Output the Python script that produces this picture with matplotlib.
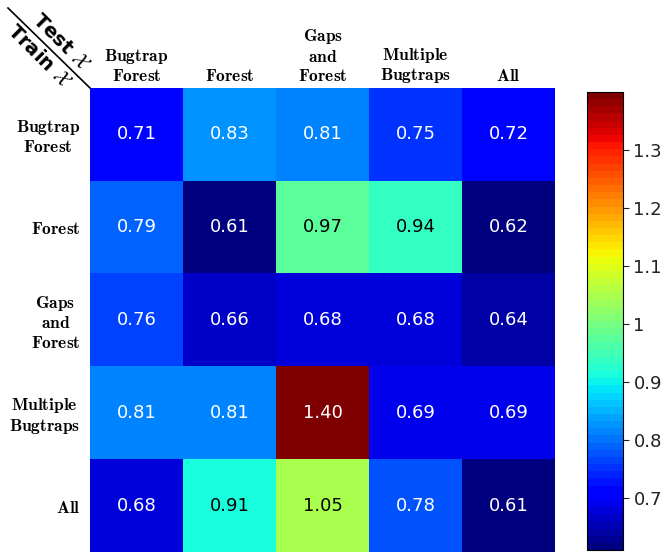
import numpy as np
import matplotlib
matplotlib.use("Agg")
import matplotlib.pyplot as plt
from matplotlib.lines import Line2D

plt.rcParams['mathtext.fontset'] = 'cm'

col_labels = ["Bugtrap\nForest", "Forest", "Gaps\nand\nForest", "Multiple\nBugtraps", "All"]
row_labels = ["Bugtrap\nForest", "Forest", "Gaps\nand\nForest", "Multiple\nBugtraps", "All"]
values = np.array([
    [0.71, 0.83, 0.81, 0.75, 0.72],
    [0.79, 0.61, 0.97, 0.94, 0.62],
    [0.76, 0.66, 0.68, 0.68, 0.64],
    [0.81, 0.81, 1.40, 0.69, 0.69],
    [0.68, 0.91, 1.05, 0.78, 0.61],
])
cbar_ticks = [0.7, 0.8, 0.9, 1.0, 1.1, 1.2, 1.3]
cbar_ticklabels = ["0.7", "0.8", "0.9", "1", "1.1", "1.2", "1.3"]


def bf(s):
    return "\n".join(r"$\mathbf{" + line.replace(" ", r"\ ") + "}$" for line in s.split("\n"))


W, H = 663, 552
fig = plt.figure(figsize=(W / 100, H / 100), dpi=100)
ax = fig.add_axes([90 / W, 0, 465 / W, 1 - 88 / H])
cmap = plt.get_cmap('jet', 64)
im = ax.imshow(values, cmap=cmap, vmin=values.min(), vmax=values.max(), aspect='auto')

for i in range(values.shape[0]):
    for j in range(values.shape[1]):
        v = values[i, j]
        color = 'black' if 0.85 < v < 1.2 else 'white'
        ax.text(j, i, f"{v:.2f}", ha='center', va='center', color=color, fontsize=13)

ax.set_xticks(range(len(col_labels)))
ax.set_yticks(range(len(row_labels)))
ax.set_xticklabels([bf(s) for s in col_labels], fontsize=12.5, linespacing=1.1)
ax.set_yticklabels([bf(s) for s in row_labels], fontsize=12.5, linespacing=1.1,
                   multialignment='center')
ax.xaxis.tick_top()
ax.tick_params(axis='x', length=0, pad=2)
ax.tick_params(axis='y', length=0, pad=7)
for sp in ax.spines.values():
    sp.set_visible(False)

cax = fig.add_axes([587 / W, 2 / H, 36 / W, (550 - 92) / H])
cb = fig.colorbar(im, cax=cax)
cb.set_ticks(cbar_ticks)
cb.set_ticklabels(cbar_ticklabels)
cb.ax.tick_params(labelsize=13, length=4, colors='#222222')
cb.outline.set_linewidth(0.8)

# corner diagonal
fig.add_artist(Line2D([8 / W, 90 / W], [1 - 8 / H, 1 - 88 / H], color='black', lw=1.2,
                      transform=fig.transFigure))
fig.text(61 / W, 1 - 42 / H, r"Test $\mathcal{X}$", rotation=-45, fontweight='bold',
         ha='center', va='center', fontsize=14, rotation_mode='anchor')
fig.text(39 / W, 1 - 56 / H, r"Train $\mathcal{X}$", rotation=-45, fontweight='bold',
         ha='center', va='center', fontsize=14, rotation_mode='anchor')

fig.savefig("out.png", dpi=100)
